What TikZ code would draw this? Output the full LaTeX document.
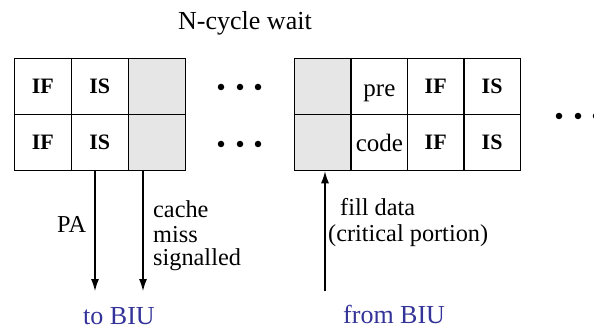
\documentclass[tikz,border=0pt]{standalone}
\usepackage{fontspec}
\setmainfont{Liberation Serif}
\usetikzlibrary{arrows.meta}
\definecolor{biublue}{RGB}{51,51,153}
\definecolor{cellgray}{RGB}{230,230,230}
\tikzset{
  cell/.style={draw, line width=1.1pt, minimum width=57pt, minimum height=56.5pt, inner sep=0pt, font=\fontsize{22}{26}\selectfont\bfseries},
  graycell/.style={cell, fill=cellgray},
  plaincell/.style={cell, font=\fontsize{25}{30}\selectfont},
  lbl/.style={anchor=base west, inner sep=0pt, font=\fontsize{24.3}{28}\selectfont},
  biglbl/.style={lbl, font=\fontsize{26}{30}\selectfont},
  bluelbl/.style={biglbl, text=biublue},
  arr/.style={line width=1.1pt, -{Latex[length=12pt,width=8pt]}},
  dotmark/.style={circle, fill=black, minimum size=6.5pt, inner sep=0pt}
}
\begin{document}
\begin{tikzpicture}[x=1pt,y=-1pt]
\useasboundingbox (0,0) rectangle (594,331);
% title
\node[biglbl] (title) at (178,30) {N-cycle wait};
% left grid
\node[cell] (if1) at (42.8,86.5) {IF};
\node[cell] (is1) at (99.8,86.5) {IS};
\node[graycell] (g1) at (156.7,86.5) {};
\node[cell] (if2) at (42.8,142.5) {IF};
\node[cell] (is2) at (99.8,142.5) {IS};
\node[graycell] (g2) at (156.7,142.5) {};
% left dots
\foreach \n/\x/\y in {da/221/87, db/240/87, dc/258/87, dd/221/144, de/240/144, df/258/144}
  \node[dotmark] (\n) at (\x,\y) {};
% right grid
\node[graycell] (g3) at (322.6,86.5) {};
\node[plaincell] (pre) at (379.4,86.5) {\raisebox{-7pt}[\height][\depth]{pre}};
\node[cell] (if3) at (435.7,86.5) {IF};
\node[cell] (is3) at (492.1,86.5) {IS};
\node[graycell] (g4) at (322.6,142.5) {};
\node[plaincell] (code) at (379.4,142.5) {code};
\node[cell] (if4) at (435.7,142.5) {IF};
\node[cell] (is4) at (492.1,142.5) {IS};
% right dots
\foreach \n/\x in {dg/559, dh/578, di/596}
  \node[dotmark] (\n) at (\x,116) {};
% arrows
\coordinate (pa) at (95,291);
\coordinate (cm) at (143,291);
\coordinate (fd) at (325,291);
\draw[arr] (is2.south -| pa) -- (pa);
\draw[arr] (g2.south -| cm) -- (cm);
\draw[arr] (fd) -- (g4.south -| fd);
% labels
\node[lbl] (patxt) at (57,233) {PA};
\node[lbl] (c1) at (153,218) {cache};
\node[lbl] (c2) at (153,242) {miss};
\node[lbl] (c3) at (153,265) {signalled};
\node[lbl] (f1) at (340,215) {fill data};
\node[lbl] (f2) at (328,241) {(critical portion)};
\node[bluelbl] (tobiu) at (83,324) {to BIU};
\node[bluelbl] (frombiu) at (343,323) {from BIU};
\end{tikzpicture}
\end{document}
